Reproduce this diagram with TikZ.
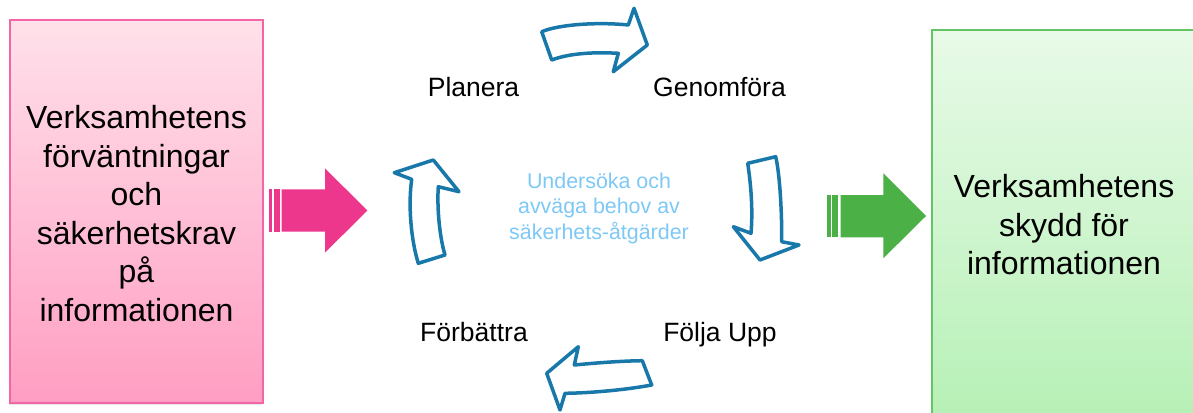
\documentclass[tikz,border=0pt]{standalone}
\usepackage{fontspec}
\setmainfont{Liberation Sans}
\definecolor{cycblue}{RGB}{24,120,170}
\definecolor{txtblue}{RGB}{125,200,245}
\definecolor{pinkarrow}{RGB}{236,55,140}
\definecolor{greenarrow}{RGB}{75,176,70}
\definecolor{pinkborder}{RGB}{242,102,168}
\definecolor{pinktop}{RGB}{255,225,234}
\definecolor{pinkbot}{RGB}{255,158,194}
\definecolor{greenborder}{RGB}{102,196,102}
\definecolor{greentop}{RGB}{232,250,232}
\definecolor{greenbot}{RGB}{182,240,182}
\tikzset{
  cyc/.style={draw=cycblue, line width=3.5pt, fill=white, line join=round},
  lbl/.style={font=\fontsize{26.5}{32}\selectfont, inner sep=0pt, anchor=base},
  bigtxt/.style={font=\fontsize{32}{38.5}\selectfont, align=center, inner sep=0pt},
  midtxt/.style={font=\fontsize{21.4}{25.5}\selectfont, align=center, text=txtblue, inner sep=0pt},
}
\begin{document}
\begin{tikzpicture}[x=1pt,y=-1pt]
\useasboundingbox (0,0) rectangle (1193,412);
\clip (0,0) rectangle (1193,412);
% left box
\fill[black!10] (9,21.5) rectangle (262,404.5);
\draw[draw=pinkborder, line width=1.6pt, top color=pinktop, bottom color=pinkbot] (10,20) rectangle (263,403);
\node[bigtxt] (req) at (136.5,213.5) {Verksamhetens\\förväntningar\\och\\säkerhetskrav\\på\\informationen};
% right box
\fill[black!10] (931,31.5) rectangle (1200,420);
\draw[draw=greenborder, line width=1.6pt, top color=greentop, bottom color=greenbot] (932,30) rectangle (1200,420);
\node[bigtxt] (prot) at (1064,225) {Verksamhetens\\skydd för\\informationen};
% pink arrow
\fill[pinkarrow] (269,189.3) rectangle (272,231.7);
\fill[pinkarrow] (273.5,189.3) rectangle (279.5,231.7);
\fill[pinkarrow] (281.5,189.3) -- (325,189.3) -- (325,168.3) -- (367.3,210.5) -- (325,252.7) -- (325,231.7) -- (281.5,231.7) -- cycle;
% green arrow
\fill[greenarrow] (827.3,195) rectangle (830.7,237.3);
\fill[greenarrow] (832,195) rectangle (838.3,237.3);
\fill[greenarrow] (840.7,195) -- (883.3,195) -- (883.3,173.3) -- (926,216) -- (883.3,258.3) -- (883.3,237.3) -- (840.7,237.3) -- cycle;
% cycle arrows
\draw[cyc] (541.7,31.7) .. controls (560,24) and (600,22) .. (628.3,25) -- (634,8.3) -- (647.3,45) -- (613.3,71.7) -- (618.3,53.3) .. controls (595,52) and (570,53) .. (551.7,60) -- cycle;
\draw[cyc] (747.7,163.3) -- (775.7,156.7) .. controls (780,175) and (782,215) .. (781.7,241.7) -- (799,245) -- (760,260) -- (733.3,226.7) -- (751,233.3) .. controls (753,210) and (751,185) .. (747.7,163.3) -- cycle;
\draw[cyc] (651.7,385) -- (642.3,360.7) .. controls (620,361) and (595,363) .. (574.3,365) -- (578.3,346.7) -- (546.7,373.3) -- (560,410) -- (565,393.3) .. controls (590,393) and (625,390) .. (651.7,385) -- cycle;
\draw[cyc] (418.3,263.3) -- (445,255) .. controls (439,235) and (437,205) .. (438.3,186.7) -- (459,191.7) -- (433.3,160) -- (394.3,172.7) -- (411.7,179.3) .. controls (408,205) and (411,240) .. (418.3,263.3) -- cycle;
% labels
\node[lbl] (plan) at (473.5,96) {Planera};
\node[lbl] (gen) at (719.5,96) {Genomföra};
\node[lbl] (forb) at (474,341.7) {Förbättra};
\node[lbl] (folj) at (720,341.7) {Följa Upp};
\node[midtxt] (mid) at (599,208.3) {Undersöka och\\avväga behov av\\säkerhets-åtgärder};
\end{tikzpicture}
\end{document}
